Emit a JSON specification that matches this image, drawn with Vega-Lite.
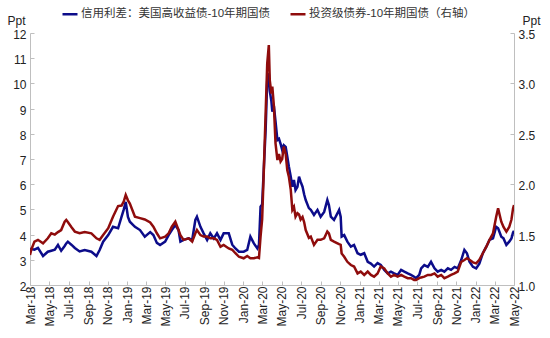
{
"$schema": "https://vega.github.io/schema/vega-lite/v6.json",
"width": 484, "height": 252,
"autosize": {"type": "none"},
"padding": {"left": 30, "top": 33, "right": 36, "bottom": 53},
"background": "white",
"config": {"view": {"stroke": null}, "font": "Liberation Sans, Noto Sans CJK SC"},
"data": {"values": [
{"d":"2018-03-01","hy":3.32,"ig":1.298},
{"d":"2018-03-05","hy":3.43,"ig":1.35},
{"d":"2018-03-15","hy":3.40,"ig":1.43},
{"d":"2018-03-26","hy":3.47,"ig":1.448},
{"d":"2018-04-11","hy":3.15,"ig":1.413},
{"d":"2018-04-26","hy":3.32,"ig":1.463},
{"d":"2018-05-07","hy":3.36,"ig":1.513},
{"d":"2018-05-18","hy":3.40,"ig":1.5},
{"d":"2018-05-28","hy":3.59,"ig":1.525},
{"d":"2018-06-07","hy":3.36,"ig":1.545},
{"d":"2018-06-18","hy":3.55,"ig":1.628},
{"d":"2018-06-23","hy":3.65,"ig":1.645},
{"d":"2018-06-28","hy":3.72,"ig":1.625},
{"d":"2018-07-09","hy":3.60,"ig":1.575},
{"d":"2018-07-20","hy":3.47,"ig":1.53},
{"d":"2018-08-04","hy":3.33,"ig":1.513},
{"d":"2018-08-20","hy":3.39,"ig":1.525},
{"d":"2018-09-10","hy":3.32,"ig":1.513},
{"d":"2018-09-26","hy":3.15,"ig":1.463},
{"d":"2018-10-06","hy":3.39,"ig":1.448},
{"d":"2018-10-17","hy":3.72,"ig":1.495},
{"d":"2018-11-02","hy":3.98,"ig":1.563},
{"d":"2018-11-17","hy":4.31,"ig":1.678},
{"d":"2018-12-03","hy":4.25,"ig":1.783},
{"d":"2018-12-14","hy":4.71,"ig":1.788},
{"d":"2018-12-21","hy":5.0,"ig":1.83},
{"d":"2018-12-27","hy":5.3,"ig":1.893},
{"d":"2019-01-03","hy":4.7,"ig":1.84},
{"d":"2019-01-09","hy":4.51,"ig":1.808},
{"d":"2019-01-25","hy":4.31,"ig":1.678},
{"d":"2019-02-10","hy":4.18,"ig":1.663},
{"d":"2019-02-25","hy":3.92,"ig":1.65},
{"d":"2019-03-14","hy":4.10,"ig":1.62},
{"d":"2019-03-24","hy":3.98,"ig":1.578},
{"d":"2019-04-04","hy":3.67,"ig":1.513},
{"d":"2019-04-14","hy":3.59,"ig":1.463},
{"d":"2019-04-30","hy":3.72,"ig":1.48},
{"d":"2019-05-11","hy":3.98,"ig":1.513},
{"d":"2019-05-21","hy":4.18,"ig":1.578},
{"d":"2019-06-01","hy":4.38,"ig":1.628},
{"d":"2019-06-11","hy":4.18,"ig":1.545},
{"d":"2019-06-17","hy":3.72,"ig":1.495},
{"d":"2019-06-27","hy":3.79,"ig":1.448},
{"d":"2019-07-13","hy":3.85,"ig":1.463},
{"d":"2019-07-24","hy":3.79,"ig":1.43},
{"d":"2019-08-03","hy":4.58,"ig":1.513},
{"d":"2019-08-08","hy":4.71,"ig":1.545},
{"d":"2019-08-19","hy":4.31,"ig":1.495},
{"d":"2019-08-29","hy":4.05,"ig":1.48},
{"d":"2019-09-09","hy":3.79,"ig":1.48},
{"d":"2019-09-19","hy":4.05,"ig":1.463},
{"d":"2019-09-30","hy":3.85,"ig":1.463},
{"d":"2019-10-10","hy":4.05,"ig":1.448},
{"d":"2019-10-21","hy":3.79,"ig":1.38},
{"d":"2019-10-31","hy":4.05,"ig":1.398},
{"d":"2019-11-16","hy":4.05,"ig":1.363},
{"d":"2019-11-27","hy":3.60,"ig":1.35},
{"d":"2019-12-07","hy":3.45,"ig":1.315},
{"d":"2019-12-18","hy":3.32,"ig":1.28},
{"d":"2020-01-02","hy":3.32,"ig":1.265},
{"d":"2020-01-13","hy":3.39,"ig":1.288},
{"d":"2020-01-23","hy":3.92,"ig":1.265},
{"d":"2020-02-03","hy":3.65,"ig":1.265},
{"d":"2020-02-14","hy":3.45,"ig":1.275},
{"d":"2020-02-19","hy":3.60,"ig":1.268},
{"d":"2020-02-24","hy":5.11,"ig":1.48},
{"d":"2020-02-29","hy":5.20,"ig":1.65},
{"d":"2020-03-05","hy":6.56,"ig":2.11},
{"d":"2020-03-11","hy":8.15,"ig":2.708},
{"d":"2020-03-16","hy":10.13,"ig":3.2},
{"d":"2020-03-21","hy":10.4,"ig":3.38},
{"d":"2020-03-24","hy":9.7,"ig":3.033},
{"d":"2020-03-29","hy":9.3,"ig":2.9},
{"d":"2020-04-01","hy":8.88,"ig":2.968},
{"d":"2020-04-06","hy":9.1,"ig":2.775},
{"d":"2020-04-11","hy":8.5,"ig":2.408},
{"d":"2020-04-17","hy":7.75,"ig":2.24},
{"d":"2020-04-22","hy":7.8,"ig":2.3},
{"d":"2020-04-27","hy":7.6,"ig":2.225},
{"d":"2020-05-02","hy":7.36,"ig":2.25},
{"d":"2020-05-07","hy":7.55,"ig":2.373},
{"d":"2020-05-13","hy":7.48,"ig":2.3},
{"d":"2020-05-18","hy":7.1,"ig":2.14},
{"d":"2020-05-23","hy":6.7,"ig":2.075},
{"d":"2020-05-29","hy":6.3,"ig":1.943},
{"d":"2020-06-03","hy":5.9,"ig":1.745},
{"d":"2020-06-08","hy":6.17,"ig":1.775},
{"d":"2020-06-13","hy":5.77,"ig":1.678},
{"d":"2020-06-19","hy":5.9,"ig":1.713},
{"d":"2020-06-24","hy":6.3,"ig":1.7},
{"d":"2020-06-29","hy":6.1,"ig":1.65},
{"d":"2020-07-05","hy":5.9,"ig":1.675},
{"d":"2020-07-10","hy":5.6,"ig":1.625},
{"d":"2020-07-15","hy":5.37,"ig":1.545},
{"d":"2020-07-25","hy":5.05,"ig":1.468},
{"d":"2020-07-31","hy":4.98,"ig":1.48},
{"d":"2020-08-10","hy":4.78,"ig":1.398},
{"d":"2020-08-21","hy":4.98,"ig":1.448},
{"d":"2020-08-31","hy":4.71,"ig":1.448},
{"d":"2020-09-11","hy":4.90,"ig":1.463},
{"d":"2020-09-21","hy":5.37,"ig":1.53},
{"d":"2020-09-26","hy":5.17,"ig":1.513},
{"d":"2020-10-02","hy":4.71,"ig":1.448},
{"d":"2020-10-12","hy":4.58,"ig":1.43},
{"d":"2020-10-23","hy":4.85,"ig":1.413},
{"d":"2020-10-28","hy":4.98,"ig":1.405},
{"d":"2020-11-02","hy":4.71,"ig":1.398},
{"d":"2020-11-05","hy":3.92,"ig":1.313},
{"d":"2020-11-13","hy":3.98,"ig":1.28},
{"d":"2020-11-23","hy":3.72,"ig":1.23},
{"d":"2020-12-04","hy":3.52,"ig":1.198},
{"d":"2020-12-14","hy":3.59,"ig":1.183},
{"d":"2020-12-25","hy":3.26,"ig":1.115},
{"d":"2021-01-04","hy":3.20,"ig":1.133},
{"d":"2021-01-15","hy":3.26,"ig":1.1},
{"d":"2021-01-26","hy":2.92,"ig":1.133},
{"d":"2021-02-05","hy":2.85,"ig":1.1},
{"d":"2021-02-15","hy":2.73,"ig":1.083},
{"d":"2021-02-26","hy":2.87,"ig":1.115},
{"d":"2021-03-08","hy":2.80,"ig":1.183},
{"d":"2021-03-19","hy":2.60,"ig":1.165},
{"d":"2021-03-30","hy":2.46,"ig":1.115},
{"d":"2021-04-09","hy":2.53,"ig":1.083},
{"d":"2021-04-19","hy":2.46,"ig":1.1},
{"d":"2021-04-30","hy":2.40,"ig":1.083},
{"d":"2021-05-11","hy":2.60,"ig":1.1},
{"d":"2021-05-21","hy":2.53,"ig":1.083},
{"d":"2021-06-01","hy":2.46,"ig":1.068},
{"d":"2021-06-11","hy":2.40,"ig":1.068},
{"d":"2021-06-21","hy":2.33,"ig":1.05},
{"d":"2021-06-27","hy":2.27,"ig":1.05},
{"d":"2021-07-07","hy":2.40,"ig":1.068},
{"d":"2021-07-13","hy":2.66,"ig":1.075},
{"d":"2021-07-23","hy":2.79,"ig":1.083},
{"d":"2021-08-03","hy":2.72,"ig":1.1},
{"d":"2021-08-13","hy":2.92,"ig":1.1},
{"d":"2021-08-24","hy":2.66,"ig":1.115},
{"d":"2021-09-03","hy":2.53,"ig":1.083},
{"d":"2021-09-14","hy":2.60,"ig":1.1},
{"d":"2021-09-24","hy":2.53,"ig":1.068},
{"d":"2021-10-05","hy":2.66,"ig":1.083},
{"d":"2021-10-15","hy":2.60,"ig":1.1},
{"d":"2021-10-26","hy":2.72,"ig":1.115},
{"d":"2021-11-05","hy":2.66,"ig":1.133},
{"d":"2021-11-16","hy":2.99,"ig":1.23},
{"d":"2021-11-26","hy":3.39,"ig":1.248},
{"d":"2021-12-04","hy":3.26,"ig":1.265},
{"d":"2021-12-12","hy":2.92,"ig":1.25},
{"d":"2021-12-23","hy":2.72,"ig":1.225},
{"d":"2022-01-02","hy":2.66,"ig":1.215},
{"d":"2022-01-12","hy":2.85,"ig":1.25},
{"d":"2022-01-23","hy":3.26,"ig":1.315},
{"d":"2022-02-03","hy":3.52,"ig":1.38},
{"d":"2022-02-13","hy":3.79,"ig":1.448},
{"d":"2022-02-24","hy":3.85,"ig":1.513},
{"d":"2022-03-06","hy":4.31,"ig":1.678},
{"d":"2022-03-12","hy":4.25,"ig":1.76},
{"d":"2022-03-22","hy":3.92,"ig":1.628},
{"d":"2022-03-29","hy":3.85,"ig":1.575},
{"d":"2022-04-07","hy":3.59,"ig":1.53},
{"d":"2022-04-16","hy":3.72,"ig":1.575},
{"d":"2022-04-23","hy":3.85,"ig":1.65},
{"d":"2022-04-28","hy":4.08,"ig":1.76},
{"d":"2022-05-01","hy":4.15,"ig":1.793}
]},
"layer": [
{"mark": {"type": "line", "strokeWidth": 2.5, "clip": true},
 "encoding": {
  "x": {"field": "d", "type": "temporal",
   "scale": {"type": "utc", "domain": [{"year": 2018, "month": 3, "date": 1, "utc": true}, {"year": 2022, "month": 5, "date": 1, "utc": true}]},
   "axis": {"title": null, "labelExpr": "utcFormat(datum.value, '%b-%y')", "tickCount": {"interval": "month", "step": 2},
    "labelAngle": -90, "labelFontSize": 12, "labelColor": "#222", "labelPadding": 5, "labelFlush": false, "labelOverlap": false, "labelBound": false,
    "tickSize": -4, "tickColor": "#bfbfbf", "domainColor": "#bfbfbf", "grid": false}},
  "y": {"field": "hy", "type": "quantitative", "scale": {"domain": [2, 12], "nice": false, "zero": false},
   "axis": {"values": [2,3,4,5,6,7,8,9,10,11,12], "labelFontSize": 12, "labelColor": "#222", "labelPadding": 8, "labelOffset": 1.5,
    "tickSize": -4, "tickColor": "#bfbfbf", "domainColor": "#bfbfbf", "grid": false, "labelOverlap": false,
    "title": "Ppt", "titleAngle": 0, "titleX": -23, "titleY": -13, "titleAlign": "left", "titleBaseline": "middle",
    "titleFontWeight": "normal", "titleFontSize": 12, "titleColor": "#222"}},
  "color": {"datum": "信用利差：美国高收益债-10年期国债", "type": "nominal",
   "scale": {"domain": ["信用利差：美国高收益债-10年期国债", "投资级债券-10年期国债（右轴）"], "range": ["#0c0c8a", "#8f0c0c"]},
   "legend": {"title": null, "orient": "none", "legendX": 31, "legendY": -28, "direction": "horizontal",
    "symbolType": "stroke", "symbolSize": 225, "symbolStrokeWidth": 2.5, "labelFontSize": 11.5, "labelColor": "#333",
    "labelOffset": 2, "columnPadding": 14, "labelLimit": 400}}
 }},
{"mark": {"type": "line", "strokeWidth": 2.5, "clip": true},
 "encoding": {
  "x": {"field": "d", "type": "temporal"},
  "y": {"field": "ig", "type": "quantitative", "scale": {"domain": [1, 3.5], "nice": false, "zero": false},
   "axis": {"orient": "right", "values": [1, 1.5, 2, 2.5, 3, 3.5], "format": ".1f", "labelFontSize": 12, "labelColor": "#222", "labelPadding": 8, "labelOffset": 1.5,
    "tickSize": -4, "tickColor": "#bfbfbf", "domainColor": "#bfbfbf", "grid": false, "labelOverlap": false,
    "title": "Ppt", "titleAngle": 0, "titleX": 8, "titleY": -13, "titleAlign": "left", "titleBaseline": "middle",
    "titleFontWeight": "normal", "titleFontSize": 12, "titleColor": "#222"}},
  "color": {"datum": "投资级债券-10年期国债（右轴）", "type": "nominal"}
 }}
],
"resolve": {"scale": {"y": "independent"}}
}
